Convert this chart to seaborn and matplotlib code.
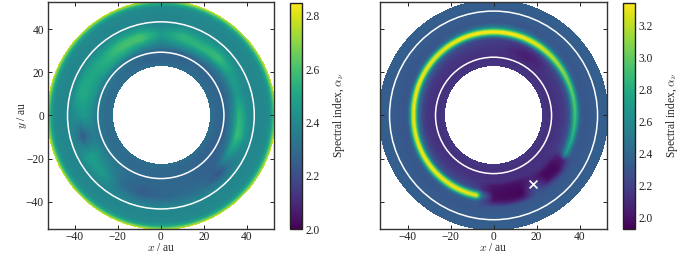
import numpy as np
import matplotlib
matplotlib.use("Agg")
import matplotlib.pyplot as plt
from matplotlib.patches import Circle
import seaborn as sns

sns.set_style("ticks")
plt.rcParams.update({
    "font.family": ["Liberation Serif", "DejaVu Serif"], "mathtext.fontset": "cm",
    "font.size": 8.3, "axes.edgecolor": "#333333", "axes.linewidth": 1.0,
    "xtick.color": "#222222", "ytick.color": "#222222",
    "text.color": "#222222", "axes.labelcolor": "#222222",
})

tick_values = [-40, -20, 0, 20, 40]
tick_labels = ["\u221240", "\u221220", "0", "20", "40"]
left_cbar_ticks = [2.0, 2.2, 2.4, 2.6, 2.8]
right_cbar_ticks = [2.0, 2.2, 2.4, 2.6, 2.8, 3.0, 3.2]
left_vrange = (2.0, 2.85)
right_vrange = (1.927, 3.346)
left_rings = [43.4, 29.3]
right_rings = [48.4, 27.0]
cross_xy = ([18.5], [-31.8])
hole_radius = 22.6
left_disk_radius = 53.4
right_disk_radius = 53.6

left_radii = [22.5, 26, 30, 33, 36, 38, 40, 43, 47, 50, 51.5, 52.5, 53.5]
left_angles = list(range(0, 360, 15))
left_values = [
    [2.31] * 24,
    [2.28, 2.28, 2.28, 2.28, 2.28, 2.27, 2.27, 2.27, 2.29, 2.30, 2.31, 2.30, 2.30, 2.30, 2.30, 2.30, 2.29, 2.29, 2.28, 2.28, 2.28, 2.27, 2.27, 2.28],
    [2.27, 2.27, 2.27, 2.27, 2.28, 2.27, 2.29, 2.30, 2.32, 2.35, 2.36, 2.35, 2.35, 2.33, 2.33, 2.32, 2.30, 2.29, 2.29, 2.29, 2.28, 2.27, 2.26, 2.26],
    [2.38, 2.33, 2.33, 2.36, 2.42, 2.42, 2.38, 2.44, 2.50, 2.50, 2.46, 2.46, 2.42, 2.36, 2.40, 2.36, 2.31, 2.28, 2.28, 2.28, 2.27, 2.26, 2.30, 2.36],
    [2.56, 2.46, 2.46, 2.56, 2.56, 2.54, 2.44, 2.60, 2.60, 2.54, 2.50, 2.50, 2.46, 2.30, 2.46, 2.42, 2.30, 2.25, 2.28, 2.29, 2.29, 2.26, 2.46, 2.58],
    [2.50, 2.44, 2.47, 2.58, 2.52, 2.56, 2.46, 2.60, 2.58, 2.52, 2.50, 2.52, 2.44, 2.24, 2.48, 2.46, 2.32, 2.26, 2.28, 2.30, 2.30, 2.22, 2.40, 2.55],
    [2.42, 2.40, 2.43, 2.48, 2.46, 2.48, 2.42, 2.50, 2.50, 2.46, 2.48, 2.50, 2.42, 2.32, 2.46, 2.44, 2.35, 2.32, 2.32, 2.33, 2.33, 2.30, 2.37, 2.44],
    [2.39] * 24,
    [2.39] * 24,
    [2.41] * 24,
    [2.50] * 24,
    [2.66] * 24,
    [2.82] * 24,
]

right_radii = [22.5, 27, 31, 33, 35, 36, 37, 38, 39, 40, 41, 43, 47, 54]
right_angles = list(range(0, 260, 10)) + [258, 262] + list(range(270, 330, 10)) + [327, 332, 340, 350]
right_values = [
    [2.15] * 38,
    [2.12] * 38,
    [2.15, 2.15, 2.15, 2.15, 2.14, 2.08, 2.03, 2.07, 2.13, 2.15, 2.15, 2.15, 2.15, 2.15, 2.15, 2.15, 2.15, 2.15, 2.15, 2.15, 2.15, 2.15, 2.15, 2.15, 2.15, 2.14, 2.14, 2.14, 2.12, 2.12, 2.12, 2.13, 2.14, 2.14, 2.14, 2.15, 2.15, 2.15],
    [2.18, 2.18, 2.18, 2.18, 2.16, 2.10, 2.07, 2.10, 2.15, 2.17, 2.18, 2.19, 2.20, 2.20, 2.21, 2.21, 2.22, 2.22, 2.22, 2.22, 2.22, 2.21, 2.21, 2.20, 2.20, 2.19, 2.15, 2.10, 2.01, 2.00, 2.00, 2.08, 2.10, 2.10, 2.14, 2.18, 2.18, 2.18],
    [2.27, 2.27, 2.27, 2.27, 2.26, 2.22, 2.18, 2.18, 2.20, 2.21, 2.22, 2.24, 2.27, 2.30, 2.32, 2.36, 2.40, 2.44, 2.46, 2.44, 2.40, 2.36, 2.32, 2.30, 2.28, 2.27, 2.24, 2.10, 1.99, 1.97, 1.97, 2.08, 1.98, 1.98, 2.06, 2.24, 2.27, 2.27],
    [2.44, 2.45, 2.46, 2.47, 2.48, 2.48, 2.44, 2.42, 2.40, 2.40, 2.40, 2.42, 2.48, 2.54, 2.62, 2.70, 2.78, 2.86, 2.90, 2.86, 2.80, 2.74, 2.68, 2.64, 2.60, 2.58, 2.56, 2.25, 1.98, 1.97, 1.97, 2.12, 1.97, 1.97, 2.05, 2.30, 2.40, 2.42],
    [2.74, 2.76, 2.80, 2.85, 2.88, 2.90, 2.90, 2.88, 2.85, 2.85, 2.86, 2.90, 2.98, 3.06, 3.16, 3.24, 3.30, 3.33, 3.34, 3.33, 3.31, 3.28, 3.24, 3.18, 3.14, 3.10, 3.06, 2.38, 1.98, 1.96, 1.95, 2.20, 1.96, 1.96, 2.03, 2.50, 2.62, 2.70],
    [2.95, 3.00, 3.05, 3.12, 3.20, 3.26, 3.30, 3.31, 3.32, 3.32, 3.32, 3.33, 3.34, 3.34, 3.34, 3.32, 3.28, 3.20, 3.16, 3.20, 3.26, 3.31, 3.34, 3.34, 3.34, 3.34, 3.32, 2.45, 1.98, 1.96, 1.95, 2.25, 1.97, 1.96, 2.05, 2.70, 2.82, 2.90],
    [2.74, 2.78, 2.82, 2.92, 3.02, 3.14, 3.24, 3.30, 3.32, 3.32, 3.32, 3.28, 3.20, 3.10, 2.98, 2.86, 2.76, 2.68, 2.64, 2.68, 2.76, 2.86, 2.96, 3.04, 3.10, 3.10, 3.06, 2.38, 1.99, 1.97, 1.96, 2.28, 1.99, 1.98, 2.08, 2.55, 2.62, 2.68],
    [2.44, 2.45, 2.48, 2.54, 2.62, 2.72, 2.80, 2.84, 2.85, 2.85, 2.83, 2.76, 2.66, 2.56, 2.50, 2.42, 2.38, 2.35, 2.34, 2.35, 2.40, 2.46, 2.52, 2.56, 2.60, 2.60, 2.56, 2.28, 2.02, 2.00, 1.99, 2.30, 2.04, 2.02, 2.15, 2.38, 2.40, 2.42],
    [2.33, 2.33, 2.33, 2.35, 2.37, 2.40, 2.44, 2.48, 2.50, 2.50, 2.47, 2.42, 2.38, 2.34, 2.33, 2.32, 2.31, 2.30, 2.30, 2.30, 2.31, 2.32, 2.33, 2.34, 2.35, 2.35, 2.34, 2.27, 2.12, 2.06, 2.06, 2.31, 2.18, 2.14, 2.24, 2.32, 2.33, 2.33],
    [2.31] * 38,
    [2.34] * 38,
    [2.36] * 38,
]

cmap = sns.color_palette("viridis", as_cmap=True)
fig = plt.figure(figsize=(6.9, 2.56), dpi=100)
W, H = 690.0, 256.0


def add_rect(x0, x1, y0, y1):
    return fig.add_axes([x0 / W, 1 - y1 / H, (x1 - x0) / W, (y1 - y0) / H])


def raster(radii, angles, values, disk):
    # display resampling of the polar table onto the image grid (one cell per pixel)
    g = np.linspace(-52.7, 52.7, 227)
    X, Y = np.meshgrid(g, g)
    R = np.hypot(X, Y)
    A = np.degrees(np.arctan2(Y, X)) % 360
    rr = np.asarray(radii, float)
    aa = np.r_[angles, 360.0]
    vals = np.asarray(values, float)
    vals = np.c_[vals, vals[:, 0]]
    ri = np.interp(R, rr, np.arange(len(rr)))
    ai = np.interp(A, aa, np.arange(len(aa)))
    r0 = np.minimum(ri.astype(int), len(rr) - 2)
    a0 = np.minimum(ai.astype(int), len(aa) - 2)
    fr, fa = ri - r0, ai - a0
    Z = ((1 - fr) * (1 - fa) * vals[r0, a0] + fr * (1 - fa) * vals[r0 + 1, a0]
         + (1 - fr) * fa * vals[r0, a0 + 1] + fr * fa * vals[r0 + 1, a0 + 1])
    return np.ma.masked_where((R < hole_radius) | (R > disk), Z)


def draw_panel(ax, cax, radii, angles, values, vrange, rings, cticks, ylabel, disk):
    im = ax.imshow(raster(radii, angles, values, disk), origin="lower", cmap=cmap,
                   extent=(-52.7, 52.7, -52.7, 52.7), vmin=vrange[0], vmax=vrange[1],
                   interpolation="nearest", aspect="auto")
    for ring in rings:
        ax.add_patch(Circle((0, 0), ring, fill=False, ec="white", lw=1.1))
    ax.set_xlim(-52.7, 52.7)
    ax.set_ylim(-52.7, 52.7)
    ax.set_xticks(tick_values, tick_labels)
    ax.set_yticks(tick_values, tick_labels if ylabel else [""] * 5)
    ax.tick_params(axis="x", direction="in", top=True, length=3, width=0.7, pad=1.5)
    ax.tick_params(axis="y", direction="in", right=True, length=3, width=0.7, pad=2.5)
    ax.set_xlabel("$x$ / au", labelpad=-0.5)
    if ylabel:
        ax.set_ylabel("$y$ / au", labelpad=-2)
    cb = fig.colorbar(im, cax=cax)
    cb.set_ticks(cticks, labels=[f"{v:.1f}" for v in cticks])
    cb.ax.tick_params(direction="in", length=2.5, width=0.7, pad=3)
    cb.outline.set_edgecolor("#222222")
    cb.outline.set_linewidth(1.0)
    cb.set_label(r"Spectral index, $\alpha_\nu$", labelpad=8)


ax1 = add_rect(47.5, 274.3, 1.8, 229)
cax1 = add_rect(290.3, 301.7, 2.5, 229)
ax2 = add_rect(380.3, 606.8, 1.8, 229)
cax2 = add_rect(622.8, 634.5, 2.5, 229)

draw_panel(ax1, cax1, left_radii, left_angles, left_values, left_vrange, left_rings, left_cbar_ticks, True, left_disk_radius)
draw_panel(ax2, cax2, right_radii, right_angles, right_values, right_vrange, right_rings, right_cbar_ticks, False, right_disk_radius)
sns.scatterplot(x=cross_xy[0], y=cross_xy[1], ax=ax2, marker="x", color="white", s=32, linewidth=1.2, zorder=5)

fig.savefig("out.png", dpi=100)
